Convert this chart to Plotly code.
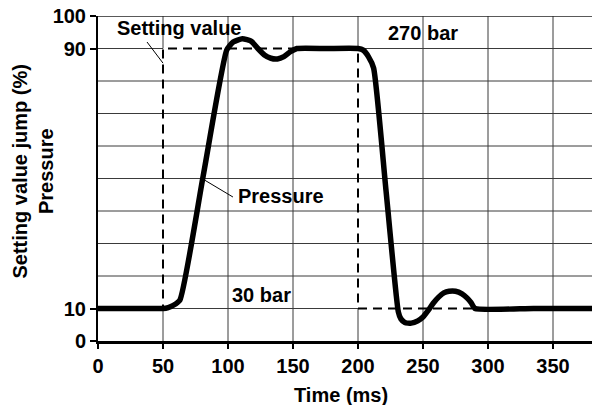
import plotly.graph_objects as go

# ---- data ----
time_ms = [0, 25, 50, 54, 58, 63, 81, 99, 104, 111, 118, 123, 128, 133, 138, 143, 148, 153,
           176, 200, 204, 208, 212, 221.5, 231, 233, 236, 241, 246, 250, 254, 258, 262, 266,
           270, 275, 280, 284, 287, 290, 335, 380]
pressure = [10, 10, 10, 10.3, 11, 12.6, 51, 89.5, 92, 93, 92.2, 90, 88, 87, 86.8, 87.5, 89, 90,
            90, 90, 89.5, 87.5, 84, 46.5, 9, 6.8, 5.7, 5.5, 6.2, 7.4, 9.4, 11.7, 13.5, 14.8,
            15.3, 15.3, 14.5, 13.2, 11.8, 10, 10, 10]

setting_time = [0, 50, 50, 200, 200, 380]
setting_value = [10, 10, 90, 90, 10, 10]

x_ticks = [0, 50, 100, 150, 200, 250, 300, 350]
y_ticks = [0, 10, 90, 100]
y_grid = [10, 20, 30, 40, 50, 60, 70, 80, 90, 100]
x_range = [0, 380]
y_range = [0, 100]

FONT = "Liberation Sans, Arial, sans-serif"
FS = 20

fig = go.Figure()

# setting value (dashed step)
fig.add_trace(go.Scatter(x=setting_time, y=setting_value, mode="lines",
                         line=dict(color="black", width=2, dash="9px,6px"),
                         hoverinfo="skip", showlegend=False))
# pressure curve
fig.add_trace(go.Scatter(x=time_ms, y=pressure, mode="lines",
                         line=dict(color="black", width=5.5, shape="spline", smoothing=0.5),
                         showlegend=False))

# ---- grid lines drawn as shapes, leaving gaps where the setting line runs ----
h_seg = []  # (y, x0, x1)
v_seg = []  # (x, y0, y1)
for i in range(len(setting_time) - 1):
    x0, x1 = setting_time[i], setting_time[i + 1]
    y0, y1 = setting_value[i], setting_value[i + 1]
    if y0 == y1:
        h_seg.append((y0, x0, x1))
    elif x0 == x1:
        v_seg.append((x0, min(y0, y1), max(y0, y1)))


def subtract(lo, hi, cuts):
    parts = [(lo, hi)]
    for a, b in cuts:
        new = []
        for p0, p1 in parts:
            if b <= p0 or a >= p1:
                new.append((p0, p1))
            else:
                if a > p0:
                    new.append((p0, a))
                if b < p1:
                    new.append((b, p1))
        parts = new
    return parts


grid_style = dict(color="#3a3a3a", width=1)
for xv in x_ticks[1:]:
    cuts = [(a, b) for (x, a, b) in v_seg if x == xv]
    for a, b in subtract(y_range[0], y_range[1], cuts):
        fig.add_shape(type="line", x0=xv, x1=xv, y0=a, y1=b, xref="x", yref="y",
                      line=grid_style, layer="below")
for yv in y_grid:
    cuts = [(a, b) for (y, a, b) in h_seg if y == yv]
    for a, b in subtract(x_range[0], x_range[1], cuts):
        fig.add_shape(type="line", x0=a, x1=b, y0=yv, y1=yv, xref="x", yref="y",
                      line=dict(color="#222", width=1.5) if yv == 100 else grid_style,
                      layer="below")

# ---- annotations ----
ann_font = dict(family=FONT, size=FS, color="black", weight="bold")
fig.add_annotation(x=62.3, y=96.3, text="Setting value", showarrow=False, font=ann_font)
fig.add_annotation(x=250, y=94.8, text="270 bar", showarrow=False, font=ann_font)
fig.add_annotation(x=125.8, y=14.2, text="30 bar", showarrow=False, font=ann_font)
fig.add_annotation(x=106, y=44.6, text="Pressure", showarrow=False, font=ann_font,
                   xanchor="left")
# leader lines
fig.add_shape(type="line", x0=37.7, y0=92, x1=50, y1=85.5, line=dict(color="black", width=1))
fig.add_shape(type="line", x0=80.8, y0=49.8, x1=103.8, y1=44.3, line=dict(color="black", width=1))

# axis titles
fig.add_annotation(x=0, y=0.52, xref="paper", yref="paper", xanchor="center",
                   yanchor="middle", xshift=-65.5, textangle=-90, showarrow=False,
                   text="Setting value jump (%)<br>Pressure", font=ann_font)
fig.add_annotation(x=0.492, y=0, xref="paper", yref="paper", xanchor="center",
                   yanchor="middle", yshift=-54, showarrow=False,
                   text="Time (ms)", font=ann_font)

tick_font = dict(family=FONT, size=FS, color="black", weight="bold")
fig.update_xaxes(range=x_range, tickmode="array", tickvals=x_ticks,
                 ticktext=[str(v) for v in x_ticks], tickfont=tick_font,
                 ticks="outside", ticklen=5, tickwidth=1.5, tickcolor="black",
                 showgrid=False, zeroline=False, showline=True, linecolor="black",
                 linewidth=3, automargin=False)
fig.update_yaxes(range=y_range, tickmode="array", tickvals=y_ticks,
                 ticktext=[str(v) for v in y_ticks], tickfont=tick_font,
                 ticks="outside", ticklen=6, tickwidth=1.5, tickcolor="black",
                 showgrid=False, zeroline=False, showline=True, linecolor="black",
                 linewidth=2, automargin=False)

fig.update_layout(width=592, height=405,
                  margin=dict(l=98, r=0, t=16, b=64),
                  paper_bgcolor="white", plot_bgcolor="white",
                  font=dict(family=FONT, color="black"),
                  showlegend=False)

fig.write_html("out.html", config={"displayModeBar": False},
               post_script="document.body.style.margin='0px';document.body.style.padding='0px';")
